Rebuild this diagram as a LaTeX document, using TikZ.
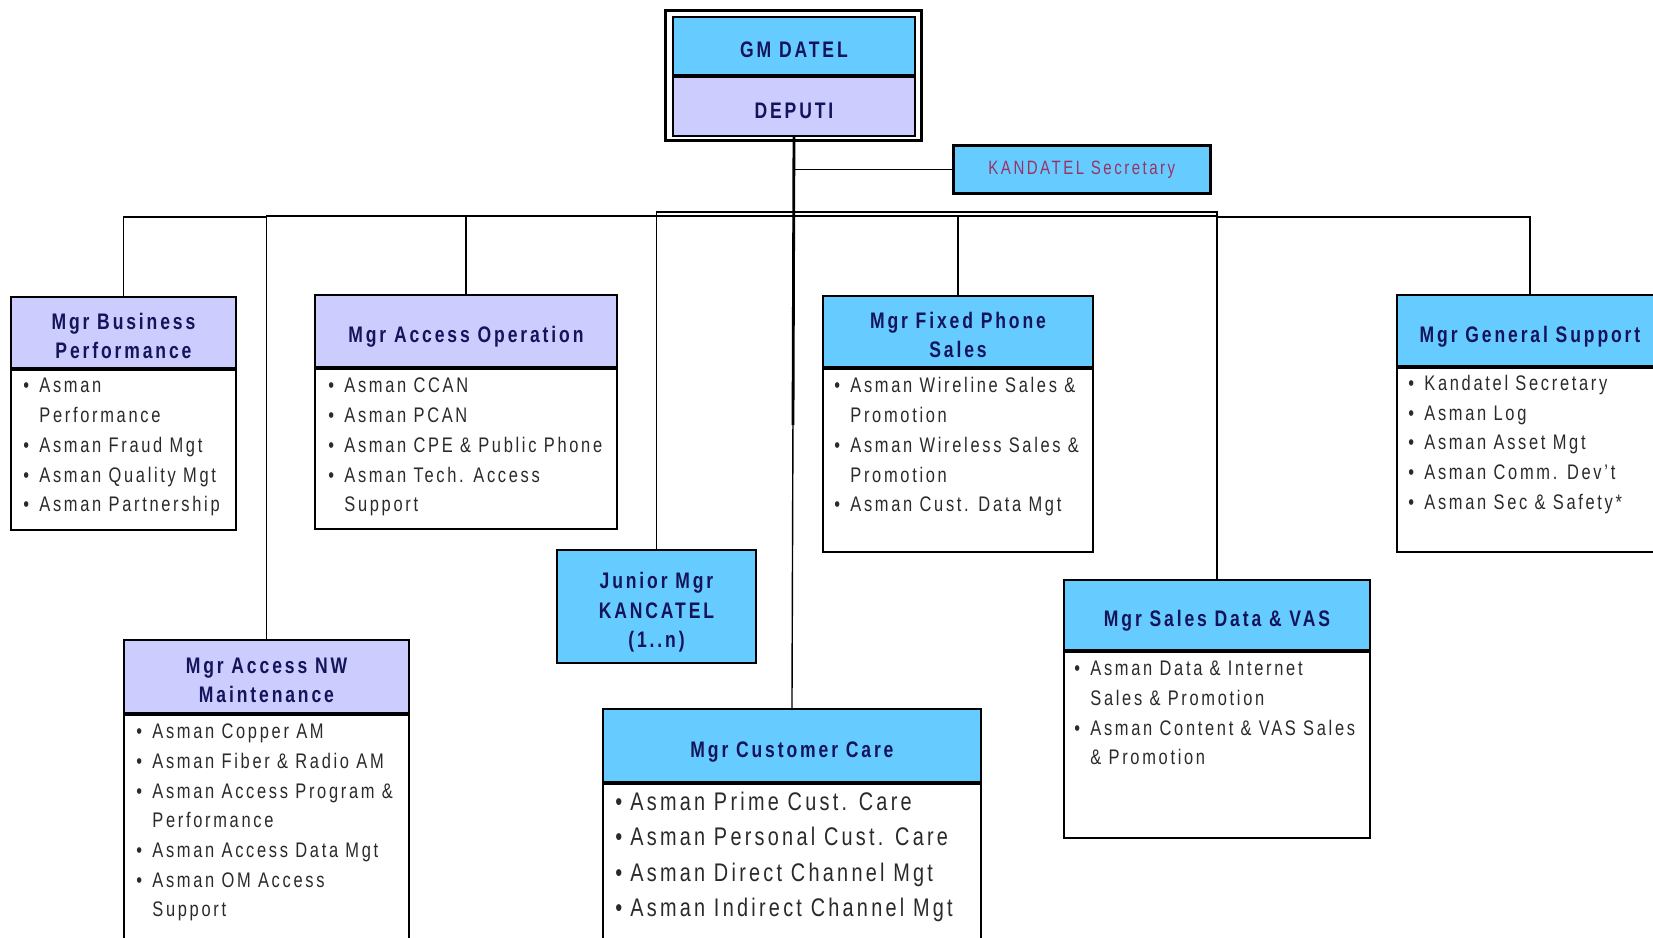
\documentclass[tikz,border=0pt]{standalone}
\usepackage{fontspec}
\setmainfont[FakeStretch=0.78,LetterSpace=12.8]{Liberation Sans}
\definecolor{hdblue}{HTML}{66CCFF}
\definecolor{hdlav}{HTML}{CCCCFF}
\definecolor{navy}{HTML}{14145A}
\definecolor{bodyink}{HTML}{2A2A2A}
\definecolor{secink}{HTML}{993366}
% one drawing unit = one pixel of a 1653 x 937 sheet
\newcommand{\px}[1]{#1*0.02cm}
\newcommand{\bi}{\makebox[0.32cm][l]{\textbullet}}
\newcommand{\ci}{\hspace*{0.32cm}}
\newcommand{\bic}{\makebox[0.30cm][l]{\textbullet}}
% header caption: centred lines, set a little below the middle of the bar
\newcommand{\hd}[1]{\raisebox{-3.3pt}[\height][\depth]{\begin{tabular}{@{}c@{}}#1\end{tabular}}}
\tikzset{
  box/.style={draw=black, line width=1.1pt, inner sep=0pt, anchor=north west},
  hdr/.style={box, text=navy,
    font=\bfseries\fontsize{12.8}{16.8}\selectfont},
  bluehdr/.style={hdr, fill=hdblue},
  lavhdr/.style={hdr, fill=hdlav},
  bodybox/.style={box, fill=white},
  % item lists are placed by the baseline of their last line
  items/.style={anchor=base west, inner sep=0pt, align=left, text=bodyink,
    font=\fontsize{12}{16.9}\selectfont},
  bigitems/.style={items, font=\fontsize{14.5}{20.1}\selectfont},
  conn/.style={line width=0.8pt},
  bus/.style={line width=1.6pt},
}
\begin{document}
\begin{tikzpicture}[x=0.02cm,y=-0.02cm]
\useasboundingbox (0,0) rectangle (1653,937);
\fill[white] (0,0) rectangle (1653,937);
\clip (0,0) rectangle (1653,937);

% top of the chart
\node[box, line width=1.8pt, minimum width={\px{256}}, minimum height={\px{130}}] (gmframe) at (664,9) {};
\node[bluehdr, minimum width={\px{242}}, minimum height={\px{58}}] (gm) at (672,16) {\hd{GM DATEL}};
\node[lavhdr, minimum width={\px{242}}, minimum height={\px{59}}] (dep) at (gm.south west) {\hd{DEPUTI}};
\node[box, line width=1.5pt, fill=hdblue, text=secink, minimum width={\px{257}}, minimum height={\px{48}},
  font=\fontsize{11}{14}\selectfont] (sec) at (952,144) {KANDATEL Secretary};

% Mgr Business Performance
\node[lavhdr, minimum width={\px{225}}, minimum height={\px{71}}] (bp) at (10,296) {\hd{Mgr Business\\Performance}};
\node[bodybox, minimum width={\px{225}}, minimum height={\px{160}}] (bpb) at (bp.south west) {};
\node[items] (bpt) at (23,511.7) {\bi Asman\\\ci Performance\\\bi Asman Fraud Mgt\\\bi Asman Quality Mgt\\\bi Asman Partnership};

% Mgr Access Operation
\node[lavhdr, minimum width={\px{302}}, minimum height={\px{72}}] (ao) at (314,294) {\hd{Mgr Access Operation}};
\node[bodybox, minimum width={\px{302}}, minimum height={\px{160}}] (aob) at (ao.south west) {};
\node[items] (aot) at (328,511.7) {\bi Asman CCAN\\\bi Asman PCAN\\\bi Asman CPE \& Public Phone\\\bi Asman Tech. Access\\\ci Support};

% Mgr Fixed Phone Sales
\node[bluehdr, minimum width={\px{270}}, minimum height={\px{71}}] (fps) at (822,295) {\hd{Mgr Fixed Phone\\Sales}};
\node[bodybox, minimum width={\px{270}}, minimum height={\px{183}}] (fpsb) at (fps.south west) {};
\node[items] (fpst) at (834,511.7) {\bi Asman Wireline Sales \&\\\ci Promotion\\\bi Asman Wireless Sales \&\\\ci Promotion\\\bi Asman Cust. Data Mgt};

% Mgr General Support
\node[bluehdr, minimum width={\px{266}}, minimum height={\px{71}}] (gs) at (1396,294) {\hd{Mgr General Support}};
\node[bodybox, minimum width={\px{266}}, minimum height={\px{184}}] (gsb) at (gs.south west) {};
\node[items] (gst) at (1408,509.2) {\bi Kandatel Secretary\\\bi Asman Log\\\bi Asman Asset Mgt\\\bi Asman Comm. Dev't\\\bi Asman Sec \& Safety*};

% Junior Mgr KANCATEL
\node[bluehdr, minimum width={\px{199}}, minimum height={\px{113}}] (jm) at (556,549) {\hd{Junior Mgr\\KANCATEL\\(1..n)}};

% Mgr Sales Data & VAS
\node[bluehdr, minimum width={\px{306}}, minimum height={\px{70}}] (sdv) at (1063,579) {\hd{Mgr Sales Data \& VAS}};
\node[bodybox, minimum width={\px{306}}, minimum height={\px{186}}] (sdvb) at (sdv.south west) {};
\node[items] (sdvt) at (1074,764.9) {\bi Asman Data \& Internet\\\ci Sales \& Promotion\\\bi Asman Content \& VAS Sales\\\ci \& Promotion};

% Mgr Access NW Maintenance
\node[lavhdr, minimum width={\px{285}}, minimum height={\px{73}}] (anw) at (123,639) {\hd{Mgr Access NW\\Maintenance}};
\node[bodybox, minimum width={\px{285}}, minimum height={\px{240}}] (anwb) at (anw.south west) {};
\node[items] (anwt) at (136,916.8) {\bi Asman Copper AM\\\bi Asman Fiber \& Radio AM\\\bi Asman Access Program \&\\\ci Performance\\\bi Asman Access Data Mgt\\\bi Asman OM Access\\\ci Support};

% Mgr Customer Care
\node[bluehdr, minimum width={\px{378}}, minimum height={\px{73}}] (cc) at (602,708) {\hd{Mgr Customer Care}};
\node[bodybox, minimum width={\px{378}}, minimum height={\px{200}}] (ccb) at (cc.south west) {};
\node[bigitems] (cct) at (615,916.5) {\bic Asman Prime Cust. Care\\\bic Asman Personal Cust. Care\\\bic Asman Direct Channel Mgt\\\bic Asman Indirect Channel Mgt};

% reporting lines
\coordinate (trunkmid) at (793,425);
\draw[conn] (dep.south) -- (cc.north);
\draw[bus] (dep.south) -- (trunkmid);
\draw[conn] (dep.south |- sec.west) -- (sec.west);
\draw[bus] (anw.north |- 0,216) -- (sdv.north |- 0,216);
\draw[conn] (bp.north) -- (bp.north |- 0,217) -- (anw.north |- 0,217);
\draw[conn] (anw.north) -- (anw.north |- 0,216);
\draw[conn] (ao.north) -- (ao.north |- 0,216);
\draw[conn] (jm.north) -- (jm.north |- 0,212) -- (sdv.north |- 0,212) -- (sdv.north);
\draw[conn] (fps.north) -- (fps.north |- 0,216);
\draw[conn] (gs.north) -- (gs.north |- 0,217) -- (sdv.north |- 0,217);
\end{tikzpicture}
\end{document}
